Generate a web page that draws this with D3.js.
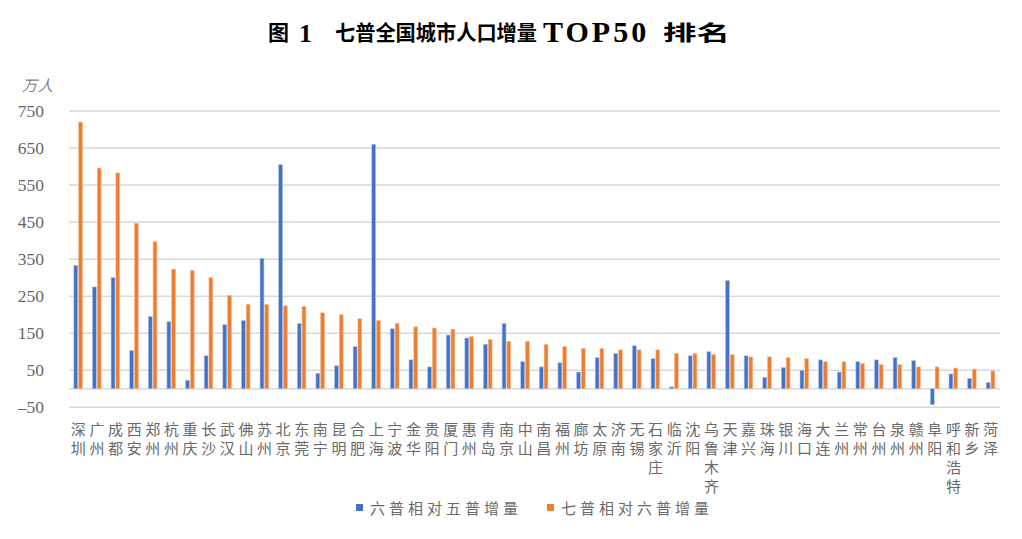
<!DOCTYPE html>
<html>
<head>
<meta charset="utf-8">
<script src="https://cdn.jsdelivr.net/npm/d3@7"></script>
<style>
  html, body { margin: 0; padding: 0; background: #fff; }
  svg { display: block; }
</style>
</head>
<body>
<svg id="chart" width="1022" height="539"></svg>
<script>
const cities = ["深圳","广州","成都","西安","郑州","杭州","重庆","长沙","武汉","佛山","苏州","北京","东莞","南宁","昆明","合肥","上海","宁波","金华","贵阳","厦门","惠州","青岛","南京","中山","南昌","福州","廊坊","太原","济南","无锡","石家庄","临沂","沈阳","乌鲁木齐","天津","嘉兴","珠海","银川","海口","大连","兰州","常州","台州","泉州","赣州","阜阳","呼和浩特","新乡","菏泽"];
const inc6vs5 = [333,275,300,103,195,181,23,89,173,184,352,605,176,42,62,114,660,162,78,59,145,137,120,176,73,59,70,45,84,95,116,81,5,89,100,292,89,31,57,50,78,45,73,78,84,76,-43,40,28,17];
const inc7vs6 = [720,596,583,447,397,323,320,300,252,228,228,224,222,205,200,189,184,177,167,164,161,141,133,128,128,120,114,109,109,105,105,105,95,95,92,92,86,86,84,81,73,73,68,65,65,59,59,56,53,48];
const seriesNames = ["六普相对五普增量", "七普相对六普增量"];
const yTicks = [-50, 50, 150, 250, 350, 450, 550, 650, 750];
const colors = ["#4472C4", "#ED7D31"];

(function () {
const svg = d3.select("#chart");
const plotL = 69, plotR = 1000, plotT = 111, plotB = 407.3;

const x = d3.scaleBand().domain(cities).range([plotL, plotR]).padding(0);
const x1 = d3.scaleBand().domain([0, 1]).range([x.bandwidth() * 0.245, x.bandwidth() * 0.755]).padding(0);
const y = d3.scaleLinear().domain([-50, 750]).range([plotB, plotT]);

// gridlines
const gridVals = yTicks.concat([0]);
svg.append("g").selectAll("line").data(gridVals).join("line")
  .attr("x1", plotL).attr("x2", plotR)
  .attr("y1", d => y(d)).attr("y2", d => y(d))
  .attr("stroke", "#d9d9d9").attr("stroke-width", 1.5);

// y axis labels
const yAxis = d3.axisLeft(y).tickValues(yTicks).tickSize(0).tickPadding(0)
  .tickFormat(d => d < 0 ? "\u2013" + Math.abs(d) : d);
const gy = svg.append("g").attr("transform", "translate(44,0)").call(yAxis);
gy.select(".domain").remove();
gy.selectAll("text")
  .attr("font-family", "'Liberation Serif', 'DejaVu Serif', serif")
  .attr("font-size", 17.5).attr("fill", "#666666");

// unit
svg.append("text").attr("x", 22).attr("y", 91)
  .attr("font-family", "'Noto Sans CJK SC', sans-serif")
  .attr("font-size", 15).attr("fill", "#7f7f7f")
  .attr("letter-spacing", 1).attr("font-style", "italic")
  .text("万人");

// bars
const data = cities.map((c, i) => ({ city: c, vals: [inc6vs5[i], inc7vs6[i]] }));
const groups = svg.append("g").selectAll("g").data(data).join("g")
  .attr("transform", d => `translate(${x(d.city)},0)`);
groups.selectAll("rect").data(d => d.vals.map((v, k) => ({ v, k }))).join("rect")
  .attr("x", d => x1(d.k) + 0.3)
  .attr("width", x1.bandwidth() - 0.9)
  .attr("y", d => y(Math.max(0, d.v)))
  .attr("height", d => Math.abs(y(d.v) - y(0)))
  .attr("fill", d => colors[d.k])
  .attr("stroke", d => d.k === 0 ? "#a9bde6" : "#f6bd95")
  .attr("stroke-width", 0.6);

// category labels (vertical stacked chars)
const rowPitch = 19;
const lab = svg.append("g")
  .attr("font-family", "'Noto Sans CJK SC', sans-serif")
  .attr("font-size", 15).attr("fill", "#6a6a6a")
  .attr("text-anchor", "middle");
cities.forEach(c => {
  const t = lab.append("text");
  Array.from(c).forEach((ch, j) => {
    t.append("tspan")
      .attr("x", x(c) + x.bandwidth() / 2)
      .attr("y", 434.5 + j * rowPitch)
      .text(ch);
  });
});

// title
const title = svg.append("g").attr("font-weight", "bold").attr("fill", "#000");
title.append("text").attr("x", 268).attr("y", 40)
  .attr("font-family", "'Noto Sans CJK SC', sans-serif").attr("font-size", 21)
  .text("图");
title.append("text").attr("x", 299).attr("y", 41.5)
  .attr("font-family", "'Liberation Serif', serif").attr("font-size", 26)
  .text("1");
title.append("text").attr("x", 335).attr("y", 40)
  .attr("font-family", "'Noto Sans CJK SC', sans-serif").attr("font-size", 21)
  .attr("textLength", 202).attr("lengthAdjust", "spacingAndGlyphs")
  .text("七普全国城市人口增量");
title.append("text").attr("x", 543).attr("y", 41.5)
  .attr("font-family", "'Liberation Serif', serif").attr("font-size", 30)
  .attr("letter-spacing", 3)
  .text("TOP50");
title.append("text").attr("x", 663).attr("y", 40)
  .attr("font-family", "'Noto Sans CJK SC', sans-serif").attr("font-size", 21)
  .attr("textLength", 67).attr("lengthAdjust", "spacingAndGlyphs")
  .text("排名");

// legend
const legendX = [356, 547];
const lg = svg.append("g");
seriesNames.forEach((name, k) => {
  lg.append("rect").attr("x", legendX[k]).attr("y", 504).attr("width", 7).attr("height", 7)
    .attr("fill", colors[k]);
  lg.append("text").attr("x", legendX[k] + 14).attr("y", 513.5)
    .attr("font-family", "'Noto Sans CJK SC', sans-serif")
    .attr("font-size", 15).attr("fill", "#6a6a6a")
    .attr("letter-spacing", 4)
    .text(name);
});
})();
</script>
</body>
</html>
